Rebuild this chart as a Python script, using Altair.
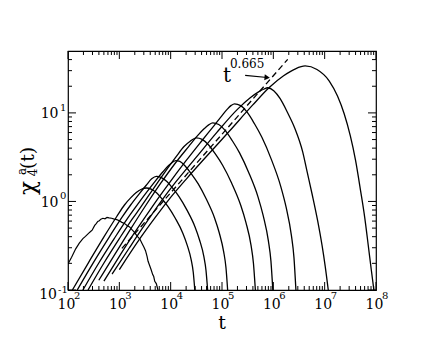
import altair as alt
import pandas as pd

W, H = 308, 239
FONT = "DejaVu Serif"

# ---- curves: log10(t) and log10(chi_4^a) ----
c1_logt = [2.0, 2.07, 2.15, 2.22, 2.29, 2.34, 2.40, 2.44, 2.47, 2.52, 2.55, 2.58, 2.61, 2.64, 2.68,
           2.72, 2.76, 2.80, 2.85, 2.90, 2.95, 3.0, 3.05, 3.1, 3.15, 3.2, 3.25, 3.3, 3.35, 3.4,
           3.44, 3.48, 3.51, 3.54, 3.56, 3.59, 3.62, 3.65, 3.67, 3.69, 3.72, 3.74, 3.76]
c1_logchi = [-0.706, -0.63, -0.535, -0.47, -0.42, -0.395, -0.36, -0.34, -0.325, -0.27, -0.25, -0.225, -0.218, -0.2, -0.19,
             -0.196, -0.18, -0.186, -0.19, -0.2, -0.206, -0.218, -0.236, -0.248, -0.272, -0.288, -0.322, -0.352, -0.394, -0.424,
             -0.472, -0.518, -0.556, -0.62, -0.676, -0.724, -0.772, -0.826, -0.848, -0.902, -0.928, -0.972, -1.02]

c2_logt = [2.085, 2.4, 2.7, 2.95, 3.1, 3.22, 3.33, 3.43, 3.525, 3.62, 3.72, 3.83, 3.946, 4.09, 4.237, 4.32, 4.40, 4.44, 4.47]
c2_logchi = [-1.0, -0.69, -0.40, -0.17, -0.04, 0.04, 0.10, 0.138, 0.152, 0.14, 0.10, 0.03, -0.057, -0.19, -0.358, -0.49, -0.66, -0.80, -1.0]

c3_logt = [2.18, 2.5, 2.8, 3.05, 3.22, 3.38, 3.52, 3.63, 3.72, 3.82, 3.926, 4.043, 4.166, 4.318, 4.473, 4.561, 4.646, 4.688, 4.72]
c3_logchi = [-1.0, -0.685, -0.405, -0.18, -0.04, 0.08, 0.18, 0.255, 0.283, 0.270, 0.225, 0.147, 0.052, -0.098, -0.285, -0.432, -0.621, -0.777, -1.0]

c4_logt = [2.29, 2.6, 2.9, 3.15, 3.31, 3.5, 3.7, 3.85, 3.96, 4.03, 4.1, 4.179, 4.289, 4.41, 4.537, 4.694, 4.855, 4.946, 5.033, 5.077, 5.11]
c4_logchi = [-1.0, -0.695, -0.42, -0.2, -0.07, 0.08, 0.23, 0.335, 0.405, 0.44, 0.461, 0.452, 0.395, 0.306, 0.198, 0.027, -0.186, -0.353, -0.569, -0.746, -1.0]

c5_logt = [2.39, 2.7, 3.0, 3.25, 3.41, 3.6, 3.85, 4.1, 4.26, 4.38, 4.498, 4.613, 4.735, 4.87, 5.012, 5.187, 5.365, 5.467, 5.565, 5.613, 5.65]
c5_logchi = [-1.0, -0.695, -0.42, -0.2, -0.07, 0.09, 0.3, 0.5, 0.62, 0.68, 0.718, 0.701, 0.641, 0.536, 0.409, 0.208, -0.043, -0.239, -0.493, -0.701, -1.0]

c6_logt = [2.60, 2.9, 3.2, 3.52, 3.8, 4.1, 4.35, 4.52, 4.65, 4.74, 4.82, 4.937, 5.061, 5.198, 5.342, 5.52, 5.701, 5.804, 5.903, 5.953, 5.99]
c6_logchi = [-0.89, -0.61, -0.33, -0.04, 0.2, 0.44, 0.62, 0.74, 0.82, 0.865, 0.888, 0.869, 0.803, 0.688, 0.548, 0.327, 0.052, -0.164, -0.443, -0.671, -1.0]

c7_logt = [2.70, 3.0, 3.3, 3.64, 3.95, 4.3, 4.6, 4.85, 5.0, 5.1, 5.18, 5.243, 5.363, 5.49, 5.63, 5.777, 5.959, 6.144, 6.25, 6.351, 6.402, 6.44]
c7_logchi = [-0.90, -0.62, -0.35, -0.06, 0.19, 0.46, 0.68, 0.86, 0.97, 1.04, 1.085, 1.103, 1.082, 1.008, 0.88, 0.724, 0.478, 0.171, -0.068, -0.38, -0.634, -1.0]

c8_logt = [2.86, 3.2, 3.5, 3.80, 4.1, 4.5, 4.9, 5.3, 5.55, 5.72, 5.82, 5.89, 6.008, 6.133, 6.271, 6.416, 6.572, 6.66, 6.76, 6.864, 6.95, 7.01, 7.07]
c8_logchi = [-0.82, -0.52, -0.26, -0.01, 0.22, 0.5, 0.78, 1.04, 1.17, 1.24, 1.27, 1.284, 1.25, 1.16, 1.01, 0.83, 0.56, 0.33, 0.07, -0.22, -0.5, -0.73, -1.0]

c9_logt = [3.0, 3.4, 3.7, 3.95, 4.3, 4.7, 5.146, 5.6, 5.925, 6.2, 6.42, 6.62, 6.85, 7.09, 7.25, 7.38, 7.5, 7.6, 7.7, 7.78, 7.85, 7.91, 7.97]
c9_logchi = [-0.77, -0.42, -0.18, 0.01, 0.25, 0.51, 0.795, 1.09, 1.29, 1.42, 1.495, 1.53, 1.49, 1.36, 1.19, 0.99, 0.74, 0.47, 0.12, -0.18, -0.5, -0.78, -1.05]

# power law t^0.665 guide (end points)
dash_logt = [3.05, 6.28]
dash_logchi = [-0.53, 1.605]

# annotation arrow (t, chi)
arrow_logt = [5.451, 5.88]
arrow_logchi = [1.4235, 1.40]

# annotation text positions (log10 t, log10 chi)
ann_text = ["t", "0.665"]
ann_logt = [5.10, 5.49]
ann_logchi = [1.42, 1.555]

# ticks and labels
x_major = [1e2, 1e3, 1e4, 1e5, 1e6, 1e7, 1e8]
x_exp = ["2", "3", "4", "5", "6", "7", "8"]
x_minor = [m * 10 ** e for e in range(2, 8) for m in range(2, 10)]
y_major = [0.1, 1, 10]
y_exp = ["-1", "0", "1"]
y_minor = [m * 10 ** e for e in (-1, 0) for m in range(2, 10)] + [20, 30, 40]

smooth_sets = [("c2", c2_logt, c2_logchi), ("c3", c3_logt, c3_logchi), ("c4", c4_logt, c4_logchi),
               ("c5", c5_logt, c5_logchi), ("c6", c6_logt, c6_logchi), ("c7", c7_logt, c7_logchi),
               ("c8", c8_logt, c8_logchi), ("c9", c9_logt, c9_logchi)]


def to_df(name, lt, lc):
    return pd.DataFrame({"curve": name, "i": list(range(len(lt))),
                         "t": [10 ** v for v in lt], "chi": [10 ** v for v in lc]})


smooth_df = pd.concat([to_df(*s) for s in smooth_sets], ignore_index=True)
noisy_df = to_df("c1", c1_logt, c1_logchi)
dash_df = to_df("dash", dash_logt, dash_logchi)
arrow_df = to_df("arrow", arrow_logt, arrow_logchi)
ann_df = to_df("ann", ann_logt, ann_logchi)
ann_df["txt"] = ann_text

xs = alt.Scale(type="log", domain=[100, 1e8], nice=False)
ys = alt.Scale(type="log", domain=[0.1, 50], nice=False)
X = alt.X("t:Q", scale=xs, axis=None)
Y = alt.Y("chi:Q", scale=ys, axis=None)

smooth = alt.Chart(smooth_df).mark_line(color="black", strokeWidth=1.3, interpolate="monotone", clip=True).encode(
    x=X, y=Y, detail="curve:N", order="i:Q")
noisy = alt.Chart(noisy_df).mark_line(color="black", strokeWidth=1.2, clip=True).encode(x=X, y=Y, order="i:Q")
dashed = alt.Chart(dash_df).mark_line(color="black", strokeWidth=1.3, strokeDash=[6, 3.5], clip=True).encode(
    x=X, y=Y, order="i:Q")
arrow_line = alt.Chart(arrow_df).mark_line(color="black", strokeWidth=1.1).encode(x=X, y=Y, order="i:Q")
arrow_head = alt.Chart(arrow_df.iloc[[1]]).mark_point(shape="triangle-right", filled=True, size=38, angle=5,
                                                       color="black", opacity=1).encode(x=X, y=Y)

ann_t = alt.Chart(ann_df.iloc[[0]]).mark_text(font=FONT, fontSize=20, baseline="middle", align="center").encode(
    x=X, y=Y, text="txt:N")
ann_e = alt.Chart(ann_df.iloc[[1]]).mark_text(font=FONT, fontSize=12, baseline="middle", align="center").encode(
    x=X, y=Y, text="txt:N")


def xtick_layers(vals, length):
    d = pd.DataFrame({"t": vals})
    b = alt.Chart(d).mark_rule(color="black", strokeWidth=1).encode(x=X, y=alt.value(H), y2=alt.value(H - length))
    t = alt.Chart(d).mark_rule(color="black", strokeWidth=1).encode(x=X, y=alt.value(0), y2=alt.value(length))
    return [b, t]


def ytick_layers(vals, length):
    d = pd.DataFrame({"chi": vals})
    l = alt.Chart(d).mark_rule(color="black", strokeWidth=1).encode(y=Y, x=alt.value(0), x2=alt.value(length))
    r = alt.Chart(d).mark_rule(color="black", strokeWidth=1).encode(y=Y, x=alt.value(W), x2=alt.value(W - length))
    return [l, r]


ticks = xtick_layers(x_major, 8) + xtick_layers(x_minor, 4) + ytick_layers(y_major, 8) + ytick_layers(y_minor, 4)

xl = pd.DataFrame({"t": x_major, "exp": x_exp, "base": ["10"] * len(x_major)})
x_base = alt.Chart(xl).mark_text(font=FONT, fontSize=14, align="center", baseline="middle", dx=-1.5).encode(
    x=X, y=alt.value(H + 14.5), text="base:N")
x_sup = alt.Chart(xl).mark_text(font=FONT, fontSize=10, align="left", baseline="middle", dx=6).encode(
    x=X, y=alt.value(H + 5.5), text="exp:N")

yl = pd.DataFrame({"chi": y_major[1:], "exp": y_exp[1:], "base": ["10"] * 2})
y_base = alt.Chart(yl).mark_text(font=FONT, fontSize=14, align="right", baseline="middle", dy=1.5).encode(
    y=Y, x=alt.value(-9.5), text="base:N")
y_sup = alt.Chart(yl).mark_text(font=FONT, fontSize=10, align="left", baseline="middle", dy=-5).encode(
    y=Y, x=alt.value(-8), text="exp:N")
yl0 = pd.DataFrame({"chi": y_major[:1], "exp": y_exp[:1], "base": ["10"]})
y_base0 = alt.Chart(yl0).mark_text(font=FONT, fontSize=14, align="right", baseline="middle", dy=5).encode(
    y=Y, x=alt.value(-11), text="base:N")
y_sup0 = alt.Chart(yl0).mark_text(font=FONT, fontSize=10, align="left", baseline="middle", dy=0).encode(
    y=Y, x=alt.value(-10), text="exp:N")

x_title = alt.Chart(pd.DataFrame({"s": ["t"]})).mark_text(font=FONT, fontSize=19, baseline="middle").encode(
    x=alt.value(W / 2), y=alt.value(H + 33), text="s:N")

ytitle_df = pd.DataFrame({"s": ["χ", "4", "a", "(t)"]})
chi_t = alt.Chart(ytitle_df.iloc[[0]]).mark_text(font=FONT, fontSize=23, angle=270, baseline="middle",
                                                  align="center").encode(x=alt.value(-40), y=alt.value(137), text="s:N")
sub_t = alt.Chart(ytitle_df.iloc[[1]]).mark_text(font=FONT, fontSize=12, angle=270, baseline="middle",
                                                  align="center").encode(x=alt.value(-35), y=alt.value(121.5), text="s:N")
sup_t = alt.Chart(ytitle_df.iloc[[2]]).mark_text(font=FONT, fontSize=12, angle=270, baseline="middle",
                                                  align="center").encode(x=alt.value(-46), y=alt.value(120.5), text="s:N")
par_t = alt.Chart(ytitle_df.iloc[[3]]).mark_text(font=FONT, fontSize=19, angle=270, baseline="middle",
                                                  align="center").encode(x=alt.value(-40), y=alt.value(107), text="s:N")

chart = alt.layer(
    *ticks, smooth, noisy, dashed, arrow_line, arrow_head, ann_t, ann_e,
    x_base, x_sup, y_base, y_sup, y_base0, y_sup0, x_title, chi_t, sub_t, sup_t, par_t
).properties(
    width=W, height=H,
    padding={"left": 60, "top": 43, "right": 55, "bottom": 44},
    autosize=alt.AutoSizeParams(type="none"),
).configure_view(stroke="black", strokeWidth=1.2)

chart.save("out.html", embed_options={"renderer": "svg", "actions": False})
